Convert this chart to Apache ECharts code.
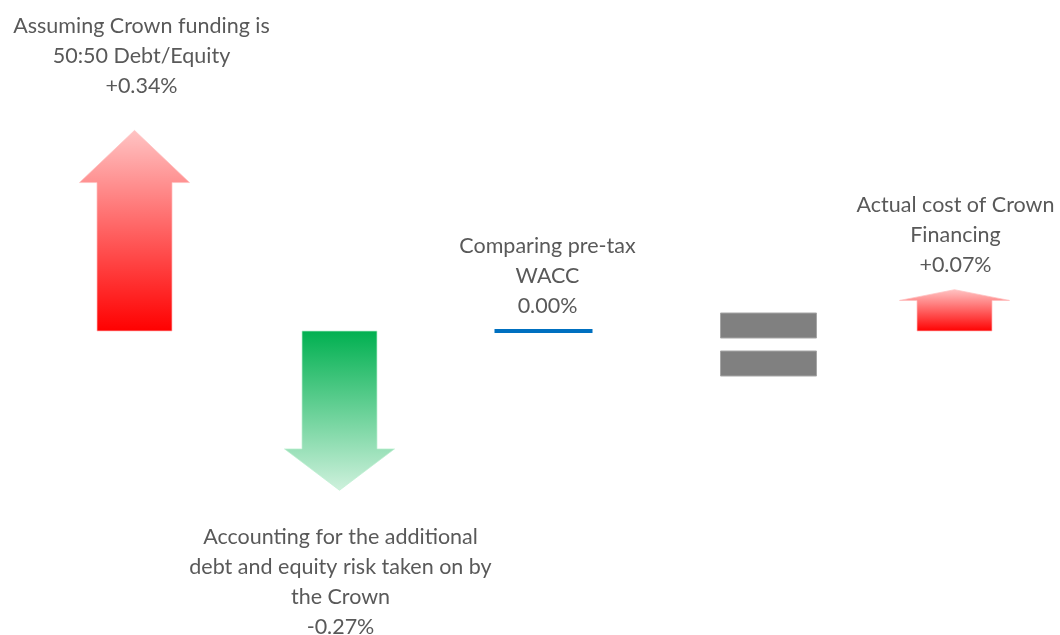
<!DOCTYPE html>
<html>
<head>
<meta charset="utf-8">
<script src="https://cdn.jsdelivr.net/npm/echarts@6/dist/echarts.min.js"></script>
<style>
  html, body { margin: 0; padding: 0; background: #ffffff; }
  #chart { width: 1060px; height: 635px; }
</style>
</head>
<body>
<div id="chart"></div>
<script>
// Steps of the cost-of-capital bridge
const categories = [
  'Assuming Crown funding is\n50:50 Debt/Equity',
  'Accounting for the additional\ndebt and equity risk taken on by\nthe Crown',
  'Comparing pre-tax\nWACC',
  '=',
  'Actual cost of Crown\nFinancing'
];
// Change in cost, percentage points
const values = [0.34, -0.27, 0.00, null, 0.07];
// How each step is drawn
const markKinds = ['arrow', 'arrow', 'line', 'equals', 'arrow'];

const TEXT_COLOR = '#595959';
const FONT = '21.5px Lato, "Noto Sans", sans-serif';

function formatPct(v) {
  if (v > 0) return '+' + v.toFixed(2) + '%';
  return v.toFixed(2) + '%';
}

function renderItem(params, api) {
  const idx = api.value(0);
  const v = api.value(1);
  const kind = markKinds[idx];
  const base = api.coord([idx, 0]);
  const cx = base[0];
  const y0 = base[1];
  const children = [];

  if (kind === 'equals') {
    const ex = cx + 19;
    const w = 96, h = 25;
    children.push({
      type: 'rect',
      shape: { x: ex - w / 2, y: y0 - 18, width: w, height: h },
      style: { fill: '#808080', stroke: '#a6a6a6', lineWidth: 1 }
    });
    children.push({
      type: 'rect',
      shape: { x: ex - w / 2, y: y0 + 20, width: w, height: h },
      style: { fill: '#808080', stroke: '#a6a6a6', lineWidth: 1 }
    });
    return { type: 'group', children };
  }

  const label = categories[idx] + '\n' + formatPct(v);

  if (kind === 'line') {
    children.push({
      type: 'line',
      shape: { x1: cx - 50, y1: y0, x2: cx + 48, y2: y0 },
      style: { stroke: '#0070C0', lineWidth: 4 }
    });
    children.push({
      type: 'text',
      style: {
        text: label, x: cx + 3, y: y0 - 10,
        align: 'center', verticalAlign: 'bottom',
        font: FONT, lineHeight: 30, fill: TEXT_COLOR
      }
    });
    return { type: 'group', children };
  }

  // arrow
  const tip = api.coord([idx, v])[1];
  const len = Math.abs(tip - y0);
  const dir = v >= 0 ? -1 : 1;
  const headH = len * 0.26;
  const sw = 75, hw = 110;
  const yHB = tip - dir * headH;
  const pts = [
    [cx - sw / 2, y0],
    [cx - sw / 2, yHB],
    [cx - hw / 2, yHB],
    [cx, tip],
    [cx + hw / 2, yHB],
    [cx + sw / 2, yHB],
    [cx + sw / 2, y0]
  ];
  const fill = v >= 0
    ? new echarts.graphic.LinearGradient(0, 0, 0, 1, [
        { offset: 0, color: '#FFC4C4' },
        { offset: 1, color: '#FF0000' }
      ])
    : new echarts.graphic.LinearGradient(0, 0, 0, 1, [
        { offset: 0, color: '#00B050' },
        { offset: 1, color: '#CFF1DD' }
      ]);
  children.push({
    type: 'polygon',
    shape: { points: pts },
    style: {
      fill: fill,
      stroke: v >= 0 ? 'rgba(255,190,190,0.7)' : 'rgba(190,240,210,0.7)',
      lineWidth: 1
    }
  });
  // long arrows keep their captions further from the tip
  const gap = len > 100 ? (v >= 0 ? 29 : 32) : 10;
  children.push({
    type: 'text',
    style: {
      text: label,
      x: cx + (v >= 0 && len > 100 ? 7 : 1),
      y: tip + dir * gap,
      align: 'center',
      verticalAlign: v >= 0 ? 'bottom' : 'top',
      font: FONT, lineHeight: 30, fill: TEXT_COLOR
    }
  });
  return { type: 'group', children };
}

const chart = echarts.init(document.getElementById('chart'), null, { renderer: 'canvas' });
chart.setOption({
  animation: false,
  backgroundColor: '#ffffff',
  grid: { left: 32, width: 1025, top: 36, height: 531 },
  xAxis: {
    type: 'category',
    data: categories,
    show: false
  },
  yAxis: {
    type: 'value',
    min: -0.4,
    max: 0.5,
    show: false,
    splitLine: { show: false }
  },
  series: [{
    type: 'custom',
    renderItem: renderItem,
    clip: false,
    data: categories.map((c, i) => [i, values[i] === null ? 0 : values[i]])
  }]
});
</script>
</body>
</html>
